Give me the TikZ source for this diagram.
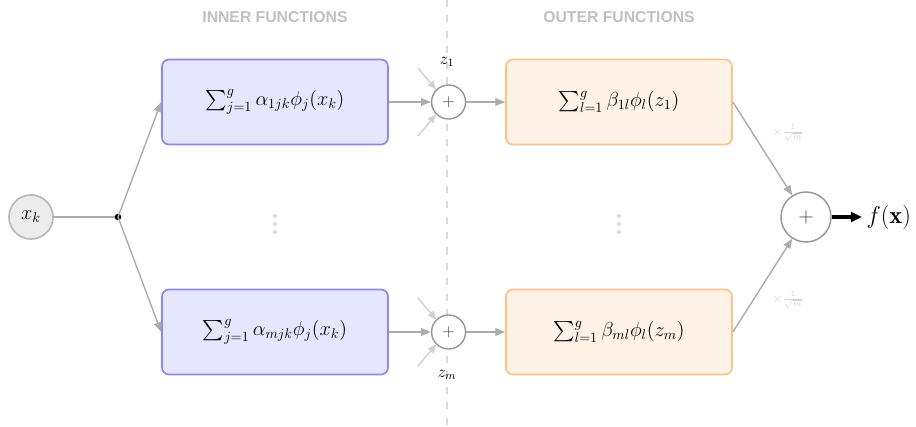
\documentclass[tikz,border=0pt]{standalone}
\usepackage{amsmath,amssymb}
\usepackage{fontspec}
\setsansfont{Liberation Sans}
\usepackage{tikz}
\usetikzlibrary{
  arrows.meta,
  positioning,
  calc
}
\definecolor{innerfill}{RGB}{230,230,255}
\definecolor{innerdraw}{RGB}{136,136,238}
\definecolor{outerfill}{RGB}{255,242,230}
\definecolor{outerdraw}{RGB}{255,194,132}
\definecolor{edgegray}{RGB}{172,172,172}
\definecolor{faintgray}{RGB}{208,208,208}
\definecolor{headgray}{RGB}{192,192,192}
\definecolor{sumgray}{RGB}{150,150,150}
\tikzset{
  innerbox/.style={draw=innerdraw, rounded corners=5pt, fill=innerfill,
    line width=1.2pt, minimum width=5.65cm, minimum height=2.125cm,
    align=center, font=\Large},
  outerbox/.style={draw=outerdraw, rounded corners=5pt, fill=outerfill,
    line width=1.2pt, minimum width=5.65cm, minimum height=2.125cm,
    align=center, font=\Large},
  sumnode/.style={circle, draw=sumgray, fill=white, line width=1pt,
    minimum size=0.85cm, inner sep=0pt, text=black!75, font=\large},
  arr/.style={-{Triangle[length=7pt, width=5.5pt]}, edgegray, line width=1pt},
  farr/.style={-{Triangle[length=6pt, width=5pt]}, faintgray, line width=1pt},
  header/.style={font=\sffamily\bfseries\fontsize{11.2}{13}\selectfont,
    text=headgray},
}

\begin{document}
\begin{tikzpicture}[x=0.025cm, y=-0.025cm]
  \useasboundingbox (0,0) rectangle (916,427);

  % divider
  \draw[faintgray!80, line width=1.2pt, dash pattern=on 5pt off 6pt]
    (447,0) -- (447,427);

  % headers
  \node[header] (hin) at (275,17) {INNER FUNCTIONS};
  \node[header] (hout) at (619,17) {OUTER FUNCTIONS};

  % input
  \node[circle, draw=edgegray!85, fill=gray!15, line width=1.2pt,
    minimum size=1.1cm, inner sep=0pt, font=\Large] (xk) at (31,217) {$x_k$};
  \coordinate (split) at (118,217);

  % inner functions
  \node[innerbox] (inA) at (275,102)
    {$\sum_{j=1}^{g}\alpha_{1jk}\phi_j(x_k)$};
  \node[innerbox] (inM) at (275,332)
    {$\sum_{j=1}^{g}\alpha_{mjk}\phi_j(x_k)$};

  % sums z
  \node[sumnode, right=1.05cm of inA] (sA) {$+$};
  \node[sumnode, right=1.05cm of inM] (sM) {$+$};
  \node[inner sep=1pt, font=\large] (zA) at (447,62) {$z_1$};
  \node[inner sep=1pt, font=\large] (zM) at (447,375) {$z_m$};

  % outer functions
  \node[outerbox] (outA) at (619,102)
    {$\sum_{l=1}^{g}\beta_{1l}\phi_l(z_1)$};
  \node[outerbox] (outM) at (619,332)
    {$\sum_{l=1}^{g}\beta_{ml}\phi_l(z_m)$};

  % vertical dots
  \foreach \x in {275,619}
    \foreach \y in {216,224,232}
      \fill[faintgray!75] (\x,\y) circle (1.5pt);

  % final sum
  \node[sumnode, minimum size=1.25cm, font=\Large] (fsum) at (806,217) {$+$};
  \node[anchor=west, inner sep=3pt, font=\LARGE] (fx) at (862,217)
    {$f(\mathbf{x})$};
  \node[text=faintgray, font=\small] (wA) at (788,133)
    {$\times\frac{1}{\sqrt{m}}$};
  \node[text=faintgray, font=\small] (wM) at (788,300)
    {$\times\frac{1}{\sqrt{m}}$};

  % other terms into sums
  \coordinate (pA1) at (418,68);
  \coordinate (pA2) at (418,136);
  \coordinate (pM1) at (418,298);
  \coordinate (pM2) at (418,366);

  % edges
  \draw[edgegray, line width=1pt] (xk) -- (split);
  \fill (split) circle (2.3pt);
  \draw[arr] (split) -- (inA.west);
  \draw[arr] (split) -- (inM.west);
  \draw[arr] (inA) -- (sA);
  \draw[arr] (inM) -- (sM);
  \draw[farr] (pA1) -- (sA.135);
  \draw[farr] (pA2) -- (sA.225);
  \draw[farr] (pM1) -- (sM.135);
  \draw[farr] (pM2) -- (sM.225);
  \draw[arr] (sA) -- (outA);
  \draw[arr] (sM) -- (outM);
  \draw[arr] (outA.east) -- (fsum);
  \draw[arr] (outM.east) -- (fsum);
  \draw[-{Triangle[length=8pt, width=7pt]}, line width=2.4pt]
    (fsum) -- (fx);
\end{tikzpicture}
\end{document}
